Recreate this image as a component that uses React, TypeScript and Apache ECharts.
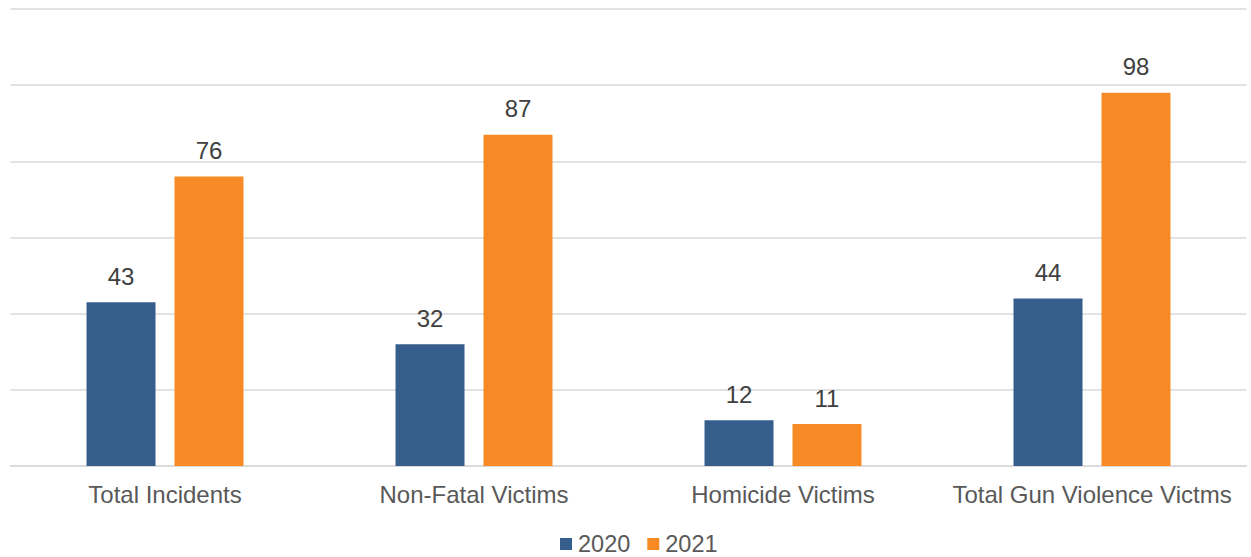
import React, { useEffect, useRef } from "react";
import * as echarts from "echarts";

const categories = ["Total Incidents", "Non-Fatal Victims", "Homicide Victims", "Total Gun Violence Victms"];
const series2020 = [43, 32, 12, 44];
const series2021 = [76, 87, 11, 98];
const seriesNames = ["2020", "2021"];

export default function App() {
  const ref = useRef<HTMLDivElement>(null);
  useEffect(() => {
    if (!ref.current) return;
    const chart = echarts.init(ref.current, undefined, { renderer: "svg" });
    const font = "'Liberation Sans', Arial, sans-serif";
    const labelStyle = {
      show: true,
      position: "top" as const,
      distance: 14,
      color: "#404040",
      fontSize: 24,
      fontFamily: font,
    };
    chart.setOption({
      animation: false,
      backgroundColor: "#ffffff",
      grid: { left: 10.5, right: 4.5, top: 9, bottom: 91, containLabel: false },
      legend: {
        data: seriesNames,
        top: 532,
        left: 560,
        padding: 0,
        itemWidth: 12,
        itemHeight: 12,
        itemGap: 17,
        icon: "rect",
        textStyle: { color: "#595959", fontSize: 23.5, fontFamily: font, padding: [0, 0, 0, 1] },
      },
      xAxis: {
        type: "category",
        data: categories,
        axisLine: { show: true, lineStyle: { color: "#d9d9d9", width: 1.5 } },
        axisTick: { show: false },
        axisLabel: { color: "#595959", fontSize: 24, fontFamily: font, margin: 16, interval: 0 },
      },
      yAxis: {
        type: "value",
        min: 0,
        max: 120,
        interval: 20,
        axisLabel: { show: false },
        axisLine: { show: false },
        axisTick: { show: false },
        splitLine: { lineStyle: { color: "#d9d9d9", width: 1.5 } },
      },
      series: [
        {
          name: seriesNames[0],
          type: "bar",
          data: series2020,
          barWidth: 69,
          barGap: "27.5%",
          itemStyle: { color: "#355E8D" },
          label: labelStyle,
        },
        {
          name: seriesNames[1],
          type: "bar",
          data: series2021,
          barWidth: 69,
          barGap: "27.5%",
          itemStyle: { color: "#F88A25" },
          label: labelStyle,
        },
      ],
    });
    return () => chart.dispose();
  }, []);
  return (
    <div
      ref={ref}
      style={{ position: "absolute", left: 0, top: 0, width: 1251, height: 557 }}
    />
  );
}
